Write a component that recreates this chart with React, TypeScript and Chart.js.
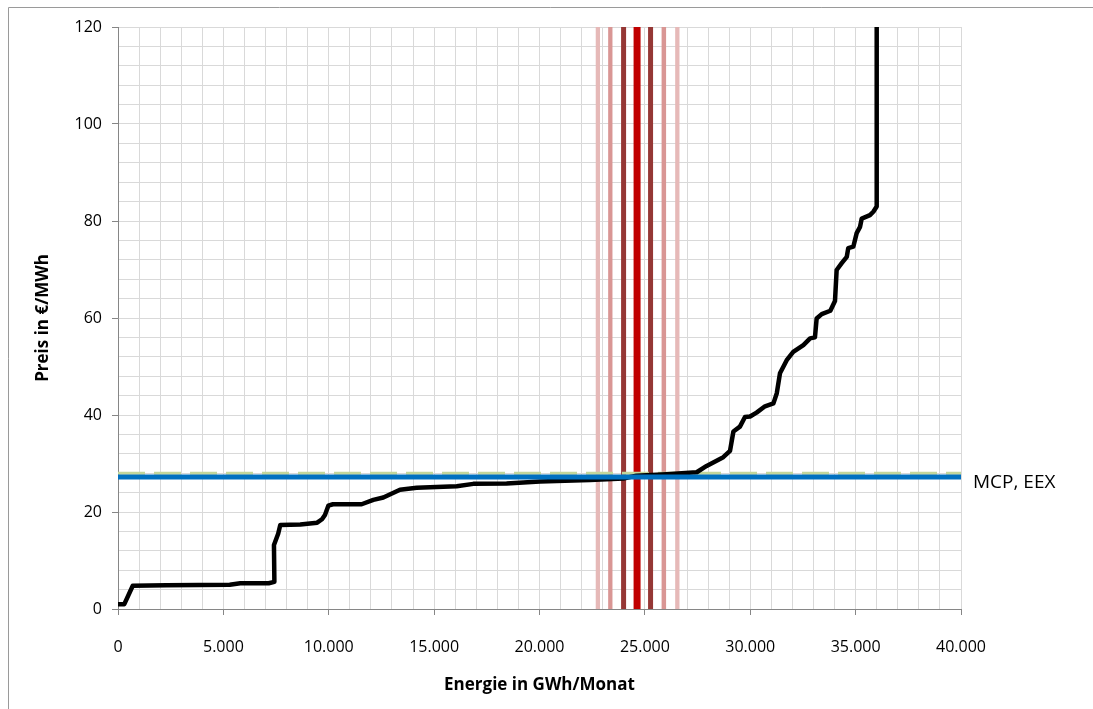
import React, { useEffect, useRef } from "react";
import { Chart, registerables } from "chart.js";

Chart.register(...registerables);

// Merit-order curve (Energie in GWh/Monat, Preis in €/MWh)
const curveX = [0, 300, 700, 2300, 5300, 5800, 7150, 7420, 7400, 7600, 7700, 8650, 9450, 9680, 9820, 9980, 10200, 11560, 12115, 12590, 13380, 14170, 16070, 16860, 18440, 20020, 22400, 23980, 24600, 26030, 27460, 27930, 28720, 29040, 29200, 29510, 29750, 29990, 30300, 30700, 31100, 31260, 31410, 31730, 32040, 32520, 32840, 33070, 33150, 33390, 33800, 34020, 34100, 34340, 34580, 34650, 34890, 35050, 35210, 35290, 35680, 35840, 36000, 36000];
const curveY = [1, 1, 4.8, 4.9, 5.0, 5.3, 5.3, 5.6, 13.2, 15.5, 17.3, 17.4, 17.8, 18.5, 19.4, 21.3, 21.6, 21.6, 22.5, 23.0, 24.6, 25.0, 25.3, 25.8, 25.9, 26.3, 26.6, 26.9, 27.5, 27.8, 28.2, 29.5, 31.3, 32.6, 36.6, 37.6, 39.6, 39.7, 40.5, 41.8, 42.4, 44.5, 48.6, 51.3, 53.0, 54.4, 55.8, 56.0, 59.9, 60.8, 61.5, 63.5, 69.9, 71.3, 72.6, 74.4, 74.7, 77.5, 78.8, 80.5, 81.2, 81.9, 83.0, 120];

// Market clearing price lines
const mcpValue = 27.2;
const eexValue = 28.0;
const mcpLabel = "MCP, EEX";

// Vertical bands (energy positions)
const bandX = [22770, 23360, 23990, 24630, 25270, 25900, 26540];
const bandColors = ["#E6B9B8", "#D99694", "#953735", "#C00000", "#953735", "#D99694", "#E6B9B8"];
const bandWidths = [4.3, 4.3, 5, 7, 5, 4.5, 4.3];

const xMin = 0, xMax = 40000, xMinorStep = 1000, xMajorStep = 5000;
const yMin = 0, yMax = 120, yMinorStep = 4, yMajorStep = 20;

const xTitle = "Energie in GWh/Monat";
const yTitle = "Preis in €/MWh";

const FONT = "'Open Sans', 'Liberation Sans', sans-serif";

function fmtDe(v: number): string {
  return Math.round(v).toString().replace(/\B(?=(\d{3})+(?!\d))/g, ".");
}

export default function App() {
  const ref = useRef<HTMLCanvasElement | null>(null);

  useEffect(() => {
    document.body.style.margin = "0";
    document.body.style.overflow = "hidden";
    const canvas = ref.current;
    if (!canvas) return;

    const datasets: any[] = [];
    datasets.push({
      label: "MCP",
      data: [{ x: xMin, y: mcpValue }, { x: xMax, y: mcpValue }],
      borderColor: "#0070C0",
      borderWidth: 5,
      showLine: true,
      pointRadius: 0,
      order: 0,
    });
    datasets.push({
      label: "EEX",
      data: [{ x: xMin, y: eexValue }, { x: xMax, y: eexValue }],
      borderColor: "#C3D69B",
      borderWidth: 3,
      borderDash: [27, 9],
      showLine: true,
      pointRadius: 0,
      order: 2,
    });
    datasets.push({
      label: "Angebot",
      data: curveX.map((x, i) => ({ x, y: curveY[i] })),
      borderColor: "#000000",
      borderWidth: 4.5,
      borderJoinStyle: "round",
      borderCapStyle: "butt",
      showLine: true,
      pointRadius: 0,
      order: 1,
    });
    bandX.forEach((bx, i) => {
      datasets.push({
        label: "band" + i,
        data: [{ x: bx, y: yMin }, { x: bx, y: yMax }],
        borderColor: bandColors[i],
        borderWidth: bandWidths[i],
        showLine: true,
        pointRadius: 0,
        order: 5,
      });
    });

    const decor = {
      id: "decor",
      afterDraw(chart: any) {
        const ctx = chart.ctx;
        const { chartArea, scales } = chart;
        ctx.save();
        // outer border (top & left)
        ctx.strokeStyle = "#9A9A9A";
        ctx.lineWidth = 1;
        ctx.beginPath();
        ctx.moveTo(8.5, 709);
        ctx.lineTo(8.5, 7.5);
        ctx.lineTo(1093, 7.5);
        ctx.stroke();
        // label
        ctx.fillStyle = "#000";
        ctx.font = `19px ${FONT}`;
        ctx.textAlign = "left";
        ctx.textBaseline = "middle";
        const y = scales.y.getPixelForValue(mcpValue) + 6;
        ctx.fillText(mcpLabel, chartArea.right + 12, y);
        ctx.restore();
      },
    };

    const chart = new Chart(canvas, {
      type: "scatter",
      data: { datasets },
      plugins: [decor],
      options: {
        animation: false,
        responsive: true,
        maintainAspectRatio: false,
        layout: { padding: { left: 0, right: 132, top: 27, bottom: 0 } },
        plugins: { legend: { display: false }, tooltip: { enabled: false } },
        events: [],
        scales: {
          x: {
            type: "linear",
            min: xMin,
            max: xMax,
            afterFit: (s: any) => { s.height = 100; },
            ticks: {
              stepSize: xMinorStep,
              autoSkip: false,
              maxRotation: 0,
              padding: 23,
              color: "#000",
              font: { family: FONT, size: 16 },
              callback: (v: any) => (Number(v) % xMajorStep === 0 ? fmtDe(Number(v)) : ""),
            },
            grid: {
              color: "#D9D9D9",
              lineWidth: 1,
              tickLength: 6,
              tickColor: (c: any) => (c.tick && c.tick.value % xMajorStep === 0 ? "#868686" : "rgba(0,0,0,0)"),
            },
            border: { color: "#868686", width: 1 },
            title: {
              display: true,
              text: xTitle,
              color: "#000",
              font: { family: FONT, size: 17, weight: "bold" },
              padding: { top: 0, bottom: 14 },
            },
          },
          y: {
            type: "linear",
            min: yMin,
            max: yMax,
            afterFit: (s: any) => { s.width = 118; },
            ticks: {
              stepSize: yMinorStep,
              autoSkip: false,
              padding: 10,
              color: "#000",
              font: { family: FONT, size: 16 },
              callback: (v: any) => (Number(v) % yMajorStep === 0 ? String(v) : ""),
            },
            grid: {
              color: "#D9D9D9",
              lineWidth: 1,
              tickLength: 6,
              tickColor: (c: any) => (c.tick && c.tick.value % yMajorStep === 0 ? "#868686" : "rgba(0,0,0,0)"),
            },
            border: { color: "#868686", width: 1 },
            title: {
              display: true,
              text: yTitle,
              color: "#000",
              font: { family: FONT, size: 17, weight: "bold" },
              padding: { top: 33, bottom: 0 },
            },
          },
        },
      } as any,
    });

    return () => chart.destroy();
  }, []);

  return (
    <div style={{ position: "absolute", left: 0, top: 0, width: 1093, height: 709, background: "#fff" }}>
      <canvas ref={ref} />
    </div>
  );
}
